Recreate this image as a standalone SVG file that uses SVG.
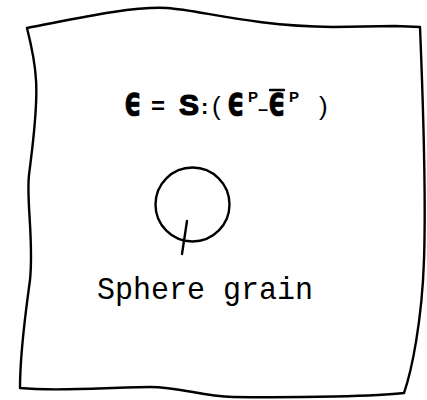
<svg xmlns="http://www.w3.org/2000/svg" width="427" height="400" viewBox="0 0 427 400">
<style>
.ln{fill:none;stroke:#000;stroke-width:2.4;stroke-linecap:round;stroke-linejoin:round}
.eq{font-family:"Liberation Sans","DejaVu Sans",sans-serif;fill:#000}
.ep{font-family:"DejaVu Sans",sans-serif;font-size:36px;font-weight:bold;fill:#000;stroke:#000;stroke-width:0.6}
.b{font-weight:bold}
.hv{stroke:#000;stroke-width:1.2}
.lbl{font-family:"Liberation Mono","DejaVu Sans Mono",monospace;fill:#000;font-size:32px}
</style>
<rect width="427" height="400" fill="#fff"/>
<g id="matrix">
<path class="ln" d="M27,28 C70,20 130,6 167,8 C200,10 250,26 333,27 L395,26 L420,27 C423,100 426,200 424,260 C422,320 412,370 404,393 C380,396 300,398 233,397 C200,396 180,387 150,387 C110,387 60,392 20,388 C20,350 26,310 30,280 C34,240 26,200 29,175 C32,150 38,110 36,80 C35,60 30,40 27,28 Z"/>
</g>
<g id="equation">
<text class="ep" transform="translate(124,115) scale(0.76,1.15)">ϵ</text>
<text class="eq" y="115"><tspan class="b" x="151" y="114" font-size="24">=</tspan><tspan class="b hv" x="179" y="115" font-size="30">S</tspan><tspan class="b" x="201" y="114" font-size="22">:</tspan><tspan x="212" y="115" font-size="26">(</tspan></text>
<text class="ep" transform="translate(227,115) scale(0.76,1.15)">ϵ</text>
<text class="eq" y="115"><tspan class="b" x="248" y="102" font-size="15">P</tspan><tspan class="b" x="258" y="115" font-size="18">–</tspan></text>
<text class="ep" transform="translate(268,115) scale(0.76,1.15)">ϵ</text>
<text class="eq" y="115"><tspan class="b" x="289" y="102" font-size="15">P</tspan><tspan x="319" y="115" font-size="26">)</tspan></text>
<line class="ln" x1="270" y1="90" x2="284" y2="90" stroke-width="2.5"/>
</g>
<g id="grain">
<circle class="ln" cx="192.5" cy="204.5" r="37" stroke-width="2"/>
</g>
<g id="connectors">
<line class="ln" x1="187" y1="221" x2="182" y2="254" stroke-width="2"/>
</g>
<g id="label">
<text class="lbl" x="97" y="299" textLength="216" lengthAdjust="spacingAndGlyphs">Sphere grain</text>
</g>
</svg>
